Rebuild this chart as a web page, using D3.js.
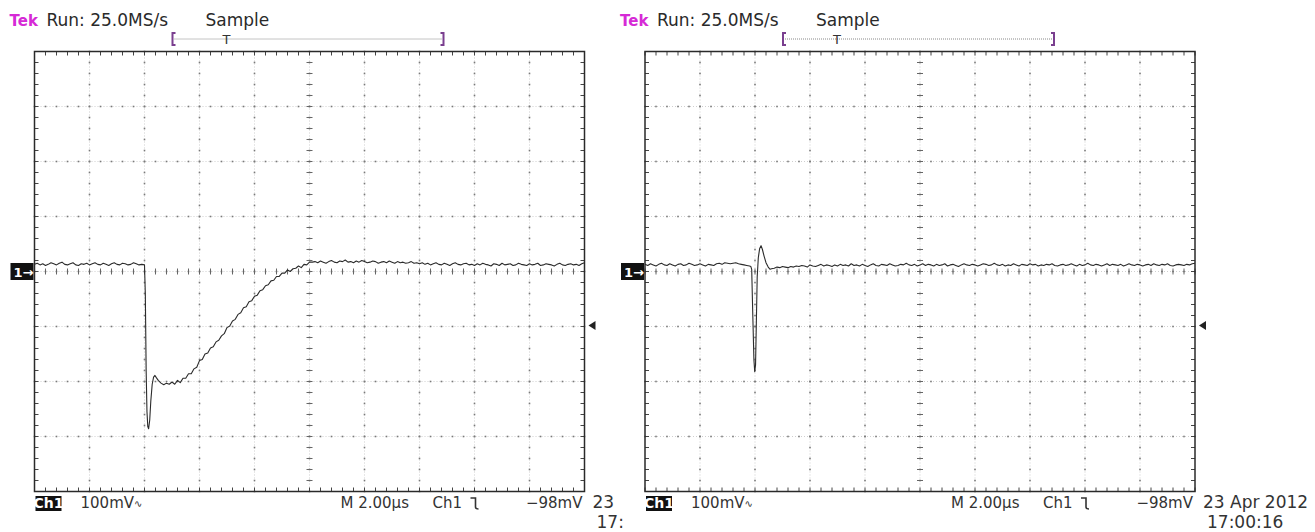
<!DOCTYPE html>
<html lang="en">
<head>
<meta charset="UTF-8">
<title>Tek scope captures</title>
<script src="https://d3js.org/d3.v7.min.js"></script>
<style>
    body { margin: 0; background: #fff; }
    svg { display: block; background: #fff; }
    text { font-family: "DejaVu Sans", sans-serif; }
</style>
</head>
<body>
<svg id="chart" width="1315" height="532"></svg>
<script>
// scope settings
const mvPerDiv = 100;     // mV per division
const usPerDiv = 2;       // µs per division
const trigLevel = -98;    // mV
const sampleStep = 0.1;   // µs between stored samples

// left capture (mV), samples from 0 µs
const aPre = [13,15,12,14,11,13,16,14,12,15,17,13,12,14,16,12,11,14,13,15,
              12,14,16,13,12,15,13,11,14,16,13,12,15,14,12,13,16,14,12,13];
// falling edge and ringing, [µs, mV]
const aEdge = [[4.0,12],[4.03,-40],[4.06,-180],[4.09,-255],[4.12,-282],[4.15,-286],
               [4.19,-270],[4.23,-235],[4.28,-205],[4.33,-192],[4.38,-189],[4.43,-193],
               [4.5,-198],[4.6,-203],[4.7,-206],[4.8,-203]];
// recovery, samples from 4.9 µs
const aPost = [-205,-201,-205,-198,-202,-194,-194,-186,-186,-177,
               -174,-162,-160,-150,-148,-139,-137,-128,-125,-117,
               -113,-102,-99,-90,-87,-78,-75,-66,-64,-55,
               -53,-45,-43,-35,-33,-26,-24,-17,-16,-9,
               -9,-3,-3,3,0,5,6,10,7,13,
               12,17,
               17,18,16,19,17,15,18,20,17,16,19,18,21,17,18,16,19,17,20,18,
               16,17,19,18,15,17,18,16,19,17,15,18,16,17,15,16,18,15,16,
               14,16,13,15,12,14,16,13,12,15,13,11,14,16,13,12,14,15,12,13,
               11,14,12,15,13,12,10,14,13,11,15,12,13,14,11,12,15,13,12,11,
               14,12,13,15,11,12,14,13,12,10,13,15,12,11,13,14,12,13,11,14,16];

// right capture (mV), samples from 0 µs
const bPre = [13,11,14,12,10,13,15,12,11,14,12,10,13,14,11,12,15,13,11,12,
              14,12,10,13,12,11,14,15,13,16,15,14,15,16,14,13,12,11,10];
const bEdge = [[3.85,9],[3.88,4],[3.92,-80],[3.96,-160],[3.99,-182],[4.02,-170],
               [4.05,-90],[4.08,-10],[4.12,25],[4.17,42],[4.22,47],[4.27,40],
               [4.33,28],[4.4,16],[4.48,8],[4.55,4]];
// samples from 4.6 µs
const bPost = [5,6,8,7,9,8,7,9,8,10, 9,11,10,8,12,10,9,11,13,10,
               12,11,9,12,10,13,11,12,10,14, 11,12,10,13,11,9,12,14,11,10,
               13,12,11,14,12,10,11,13,12,15, 12,11,13,10,12,14,11,13,12,10,
               13,11,12,14,10,12,13,11,9,12, 14,12,11,13,12,10,12,14,13,11,
               12,15,12,11,13,10,12,11,14,12, 10,13,12,11,14,12,13,10,12,11,
               13,12,14,11,10,12,13,11,12,14, 12,10,13,11,12,15,12,11,13,12,
               10,12,14,11,13,12,11,13,10,12, 14,12,11,13,12,10,12,13,11,14,
               12,11,13,12,14,11,10,12,13,12, 11,13,12,14,15];

// screen texts
const headerTexts = ["Tek", "Run: 25.0MS/s", "Sample"];
const footerTexts = ["Ch1", "100mV", "M 2.00µs", "Ch1", "\u221298mV"];
const stampTexts = [["23", "17:"], ["23 Apr 2012", "17:00:16"]];

function buildTrace(pre, preStart, edge, post, postStart) {
    const out = pre.map((v, i) => [+(preStart + i * sampleStep).toFixed(2), v]);
    edge.forEach(d => out.push(d));
    post.forEach((v, i) => out.push([+(postStart + i * sampleStep).toFixed(2), v]));
    return out;
}

const traces = [
    buildTrace(aPre, 0, aEdge, aPost, 4.9),
    buildTrace(bPre, 0, bEdge, bPost, 4.6)
];

const svg = d3.select("#chart");
const panels = [
    {x: 34.5, y: 51.5, w: 550, h: 440},
    {x: 645, y: 51.5, w: 550, h: 440}
];

panels.forEach((p, k) => {
    const g = svg.append("g");
    const x = d3.scaleLinear().domain([0, 10 * usPerDiv]).range([p.x, p.x + p.w]);
    const y = d3.scaleLinear().domain([-4 * mvPerDiv, 4 * mvPerDiv]).range([p.y + p.h, p.y]);

    const majX = d3.range(0, 11).map(i => i * usPerDiv);
    const majY = d3.range(-4, 5).map(i => i * mvPerDiv);
    const minX = d3.range(0, 51).map(i => i * usPerDiv / 5);
    const minY = d3.range(-20, 21).map(i => i * mvPerDiv / 5);
    const midX = 5 * usPerDiv;

    // faint dotted grid lines
    g.selectAll(".gv").data(majX.slice(1, -1)).join("line")
        .attr("x1", d => x(d)).attr("x2", d => x(d))
        .attr("y1", p.y).attr("y2", p.y + p.h)
        .attr("stroke", "#cfcfcf").attr("stroke-dasharray", "1 2");
    g.selectAll(".gh").data(majY.slice(1, -1)).join("line")
        .attr("y1", d => y(d)).attr("y2", d => y(d))
        .attr("x1", p.x).attr("x2", p.x + p.w)
        .attr("stroke", "#cfcfcf").attr("stroke-dasharray", "1 2");

    // darker dots at each minor step on the grid lines
    const dots = [];
    majX.slice(1, -1).forEach(mx => minY.forEach(my => dots.push([mx, my])));
    majY.slice(1, -1).forEach(my => minX.forEach(mx => dots.push([mx, my])));
    g.selectAll(".dot").data(dots).join("rect")
        .attr("x", d => x(d[0]) - 0.8).attr("y", d => y(d[1]) - 0.8)
        .attr("width", 1.6).attr("height", 1.6).attr("fill", "#7a7a7a");

    // centre axes carry small ticks
    g.selectAll(".tcx").data(minY).join("line")
        .attr("x1", x(midX) - 3).attr("x2", x(midX) + 3)
        .attr("y1", d => y(d)).attr("y2", d => y(d))
        .attr("stroke", "#666");
    g.selectAll(".tcy").data(minX).join("line")
        .attr("y1", y(0) - 3).attr("y2", y(0) + 3)
        .attr("x1", d => x(d)).attr("x2", d => x(d))
        .attr("stroke", "#666");

    // border ticks pointing inwards
    const tk = 4;
    g.selectAll(".tt").data(minX).join("line")
        .attr("x1", d => x(d)).attr("x2", d => x(d))
        .attr("y1", p.y).attr("y2", p.y + tk).attr("stroke", "#444");
    g.selectAll(".tb").data(minX).join("line")
        .attr("x1", d => x(d)).attr("x2", d => x(d))
        .attr("y1", p.y + p.h - tk).attr("y2", p.y + p.h).attr("stroke", "#444");
    g.selectAll(".tl").data(minY).join("line")
        .attr("y1", d => y(d)).attr("y2", d => y(d))
        .attr("x1", p.x).attr("x2", p.x + tk).attr("stroke", "#444");
    g.selectAll(".tr").data(minY).join("line")
        .attr("y1", d => y(d)).attr("y2", d => y(d))
        .attr("x1", p.x + p.w - tk).attr("x2", p.x + p.w).attr("stroke", "#444");

    g.append("rect")
        .attr("x", p.x).attr("y", p.y).attr("width", p.w).attr("height", p.h)
        .attr("fill", "none").attr("stroke", "#2a2a2a").attr("stroke-width", 1.5);

    // the trace
    const line = d3.line().x(d => x(d[0])).y(d => y(d[1]));
    g.append("path").datum(traces[k])
        .attr("d", line).attr("fill", "none")
        .attr("stroke", "#2b2b2b").attr("stroke-width", 1.1)
        .attr("stroke-linejoin", "round");

    // ground marker
    g.append("rect").attr("x", p.x - 24).attr("y", y(0) - 8.5)
        .attr("width", 23).attr("height", 17).attr("fill", "#111");
    g.append("text").attr("x", p.x - 21).attr("y", y(0) + 5)
        .attr("fill", "#fff").attr("font-size", 13).attr("font-weight", "bold")
        .text("1\u2192");

    // trigger level arrow
    const ty = y(trigLevel);
    g.append("path")
        .attr("d", `M${p.x + p.w + 4},${ty} l7,-4.5 v9 z`)
        .attr("fill", "#222");

    // header
    g.append("text").attr("x", p.x - 25).attr("y", 26)
        .attr("fill", "#d62ad6").attr("font-size", 15).attr("font-weight", "bold")
        .text(headerTexts[0]);
    g.append("text").attr("x", p.x + 12).attr("y", 26)
        .attr("fill", "#2a2a2a").attr("font-size", 17)
        .text(headerTexts[1]);
    g.append("text").attr("x", p.x + 171).attr("y", 26)
        .attr("fill", "#2a2a2a").attr("font-size", 17)
        .text(headerTexts[2]);

    // record view: brackets, trigger point T
    const bx0 = p.x + 137, bx1 = p.x + 410;
    g.append("line").attr("x1", bx0 + 3).attr("x2", bx1 - 2)
        .attr("y1", 39).attr("y2", 39)
        .attr("stroke", "#888").attr("stroke-dasharray", "1 1");
    g.append("path")
        .attr("d", `M${bx0 + 4},33 h-3 v12 h3 M${bx1 - 4},33 h3 v12 h-3`)
        .attr("fill", "none").attr("stroke", "#7a3f8f").attr("stroke-width", 2);
    g.append("text").attr("x", p.x + 192).attr("y", 44)
        .attr("text-anchor", "middle").attr("fill", "#333").attr("font-size", 13)
        .text("T");

    // footer
    const fy = 508;
    g.append("rect").attr("x", p.x + 1).attr("y", 496)
        .attr("width", 26).attr("height", 15).attr("fill", "#111");
    g.append("text").attr("x", p.x + 14).attr("y", fy)
        .attr("text-anchor", "middle").attr("fill", "#fff")
        .attr("font-family", "Liberation Sans").attr("font-weight", "bold").attr("font-size", 14)
        .text(footerTexts[0]);
    const f = g.append("text").attr("y", fy)
        .attr("font-family", "Liberation Sans").attr("font-size", 15).attr("fill", "#333");
    f.append("tspan").attr("x", p.x + 46).text(footerTexts[1]);
    f.append("tspan").attr("font-size", 10).attr("dy", -1).text("\u223F");
    g.append("text").attr("x", p.x + 306).attr("y", fy)
        .attr("font-family", "Liberation Sans").attr("font-size", 15).attr("fill", "#333")
        .text(footerTexts[2]);
    g.append("text").attr("x", p.x + 398).attr("y", fy)
        .attr("font-family", "Liberation Sans").attr("font-size", 15).attr("fill", "#333")
        .text(footerTexts[3]);
    g.append("path")
        .attr("d", `M${p.x + 436},${fy - 10} h5 v9 q0,2 3,2`)
        .attr("fill", "none").attr("stroke", "#333").attr("stroke-width", 1.6);
    g.append("text").attr("x", p.x + p.w - 2).attr("y", fy)
        .attr("text-anchor", "end")
        .attr("font-family", "Liberation Sans").attr("font-size", 15).attr("fill", "#333")
        .text(footerTexts[4]);

    // date stamp
    g.append("text").attr("x", p.x + p.w + 8).attr("y", 508)
        .attr("font-size", 17).attr("fill", "#333").text(stampTexts[k][0]);
    g.append("text").attr("x", p.x + p.w + 12).attr("y", 528)
        .attr("font-size", 17).attr("fill", "#333").text(stampTexts[k][1]);
});
</script>
</body>
</html>
